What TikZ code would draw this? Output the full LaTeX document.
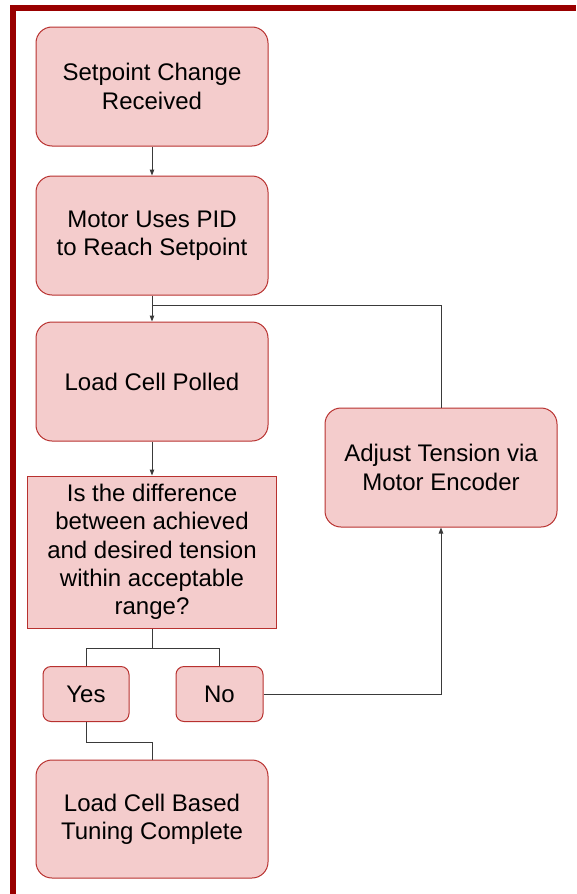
\documentclass[tikz,border=0pt]{standalone}
\usepackage{fontspec}
\setmainfont{Liberation Sans}
\usetikzlibrary{arrows.meta}
\definecolor{boxfill}{HTML}{F4CCCC}
\definecolor{boxline}{HTML}{B8312F}
\definecolor{framered}{HTML}{990000}
\definecolor{wire}{HTML}{3A3A3A}
\tikzset{
  stepbox/.style={draw=boxline, fill=boxfill, line width=1pt, rounded corners=16pt,
    minimum width=232pt, minimum height=119pt, inner sep=0pt, align=center,
    font=\fontsize{24}{28.3}\selectfont},
  smallbox/.style={stepbox, rounded corners=8pt, minimum width=86pt, minimum height=55pt},
  querybox/.style={stepbox, rounded corners=0pt, minimum width=249pt, minimum height=152pt},
  wireline/.style={draw=wire, line width=1pt},
  flow/.style={wireline, -{Triangle[length=6pt,width=4.5pt]}}
}
\begin{document}
\begin{tikzpicture}[x=1pt,y=-1pt]
  \useasboundingbox (0,0) rectangle (576,894);
  % outer frame (left and top edges)
  \fill[framered] (10,5) rectangle (576,10.8);
  \fill[framered] (10,5) rectangle (15.5,894);

  % process steps
  \node[stepbox] (recv)   at (152,86.5)  {Setpoint Change\\Received};
  \node[stepbox] (pid)    at (152,235.5) {Motor Uses PID\\to Reach Setpoint};
  \node[stepbox] (poll)   at (152,381.5) {Load Cell Polled};
  \node[stepbox] (adjust) at (441,467.5) {Adjust Tension via\\Motor Encoder};
  \node[querybox] (check) at (152,552)   {Is the difference\\between achieved\\and desired tension\\within acceptable\\range?};
  \node[smallbox] (yes)   at (86,694)    {Yes};
  \node[smallbox, minimum width=87pt] (no) at (219.5,694) {No};
  \node[stepbox, minimum height=118pt] (done) at (152,819) {Load Cell Based\\Tuning Complete};

  % junction points of the elbow connectors
  \coordinate (merge) at (152,305);
  \coordinate (split) at (152,648);
  \coordinate (yesout) at (86,742);

  % connectors
  \draw[flow] (recv.south) -- (pid.north);
  \draw[flow] (pid.south) -- (poll.north);
  \draw[wireline] (adjust.north) |- (merge);
  \draw[flow] (poll.south) -- (check.north);
  \draw[wireline] (check.south) -- (split);
  \draw[wireline] (split) -| (yes.north);
  \draw[wireline] (split) -| (no.north);
  \draw[flow] (no.east) -| (adjust.south);
  \draw[wireline] (yes.south) -- (yesout) -| (done.north);
\end{tikzpicture}
\end{document}
